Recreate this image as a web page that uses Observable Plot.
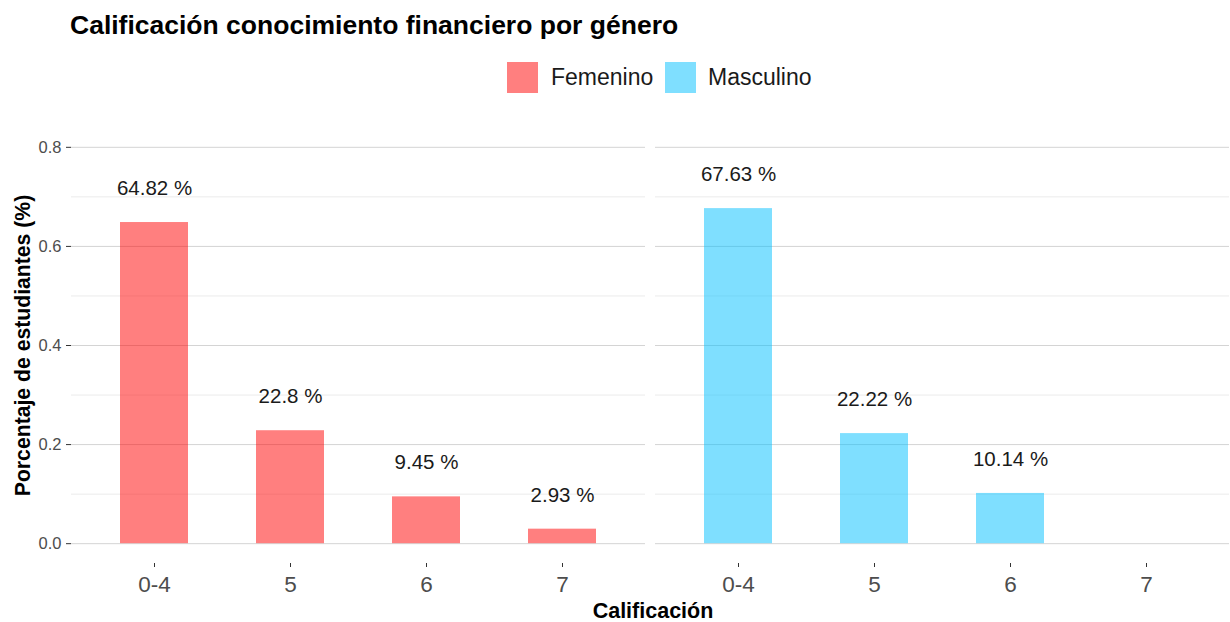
<!DOCTYPE html>
<html>
<head>
<meta charset="utf-8">
<script src="https://cdn.jsdelivr.net/npm/d3@7"></script>
<script src="https://cdn.jsdelivr.net/npm/@observablehq/plot@0.6"></script>
<style>
  body { margin: 0; background: #fff; font-family: "Liberation Sans", Arial, sans-serif; }
  #wrap { position: relative; width: 1230px; height: 622px; overflow: hidden; }
  #header { position: relative; height: 110px; }
  #title { position: absolute; left: 70px; top: 10px; font-size: 26.5px; font-weight: bold; color: #000; white-space: nowrap; }
  .sw { position: absolute; top: 62px; width: 31px; height: 31px; }
  .lt { position: absolute; top: 64px; font-size: 23px; color: #1a1a1a; white-space: nowrap; }
  #xlabel { position: absolute; left: 0; top: 599px; width: 1154px; padding-left: 76px; text-align: center; font-size: 21.5px; font-weight: bold; color: #000; }
  svg [aria-label="y-axis label"] text { font-weight: bold; font-size: 21.2px; fill: #000; }
</style>
</head>
<body>
<div id="wrap">
  <div id="header">
    <div id="title">Calificación conocimiento financiero por género</div>
    <div id="legend"></div>
  </div>
  <div id="chart"></div>
  <div id="xlabel">Calificación</div>
</div>
<script>
const categories = ["0-4", "5", "6", "7"];
const genders = ["Femenino", "Masculino"];
const femenino = [64.82, 22.8, 9.45, 2.93];
const masculino = [67.63, 22.22, 10.14];
const colors = ["rgba(255,0,0,0.5)", "rgba(0,191,255,0.5)"];
const majorTicks = [0, 0.2, 0.4, 0.6, 0.8];
const minorTicks = [0.1, 0.3, 0.5, 0.7];

const rows = [];
femenino.forEach((v, i) => rows.push({g: genders[0], cat: categories[i], pct: v}));
masculino.forEach((v, i) => rows.push({g: genders[1], cat: categories[i], pct: v}));
rows.forEach(r => { r.y = r.pct / 100; r.label = `${r.pct} %`; });

// legend
const legend = document.getElementById("legend");
const sx = [507, 665];
const tx = [551, 708];
genders.forEach((g, i) => {
  const s = document.createElement("div");
  s.className = "sw"; s.style.left = sx[i] + "px"; s.style.background = colors[i];
  legend.appendChild(s);
  const t = document.createElement("div");
  t.className = "lt"; t.style.left = tx[i] + "px"; t.textContent = g;
  legend.appendChild(t);
});

const chart = Plot.plot({
  width: 1230,
  height: 490,
  marginLeft: 70,
  marginRight: 0,
  marginTop: 17,
  marginBottom: 37,
  style: {fontFamily: "'Liberation Sans', Arial, sans-serif", background: "#fff", overflow: "visible"},
  fx: {domain: genders, paddingInner: 0.017, paddingOuter: 0, axis: null, label: null},
  x: {domain: categories, paddingInner: 0.5, paddingOuter: 0.35, align: 0.5, label: null},
  y: {domain: [-0.04, 0.84], label: null},
  color: {domain: genders, range: ["red", "deepskyblue"]},
  marks: [
    Plot.ruleY(minorTicks, {stroke: "#ebebeb", strokeWidth: 1}),
    Plot.ruleY(majorTicks, {stroke: "#d4d4d4", strokeWidth: 1}),
    Plot.barY(rows, {fx: "g", x: "cat", y1: 0, y2: "y", fill: "g", fillOpacity: 0.5}),
    Plot.text(rows, {fx: "g", x: "cat", y: "y", text: "label", dy: -34, lineAnchor: "middle", fontSize: 20.5, fill: "#1a1a1a"}),
    Plot.axisY(majorTicks, {
      tickSize: 5, tickPadding: 5, fontSize: 16.5, color: "#4d4d4d", stroke: "#333",
      tickFormat: d => d.toFixed(1),
      label: "Porcentaje de estudiantes (%)", labelAnchor: "center", labelArrow: "none", labelOffset: 57
    }),
    Plot.axisX({tickSize: 4, tickPadding: 9, fontSize: 22.5, color: "#4d4d4d", stroke: "#333", label: null})
  ]
});
document.getElementById("chart").appendChild(chart);
</script>
</body>
</html>
